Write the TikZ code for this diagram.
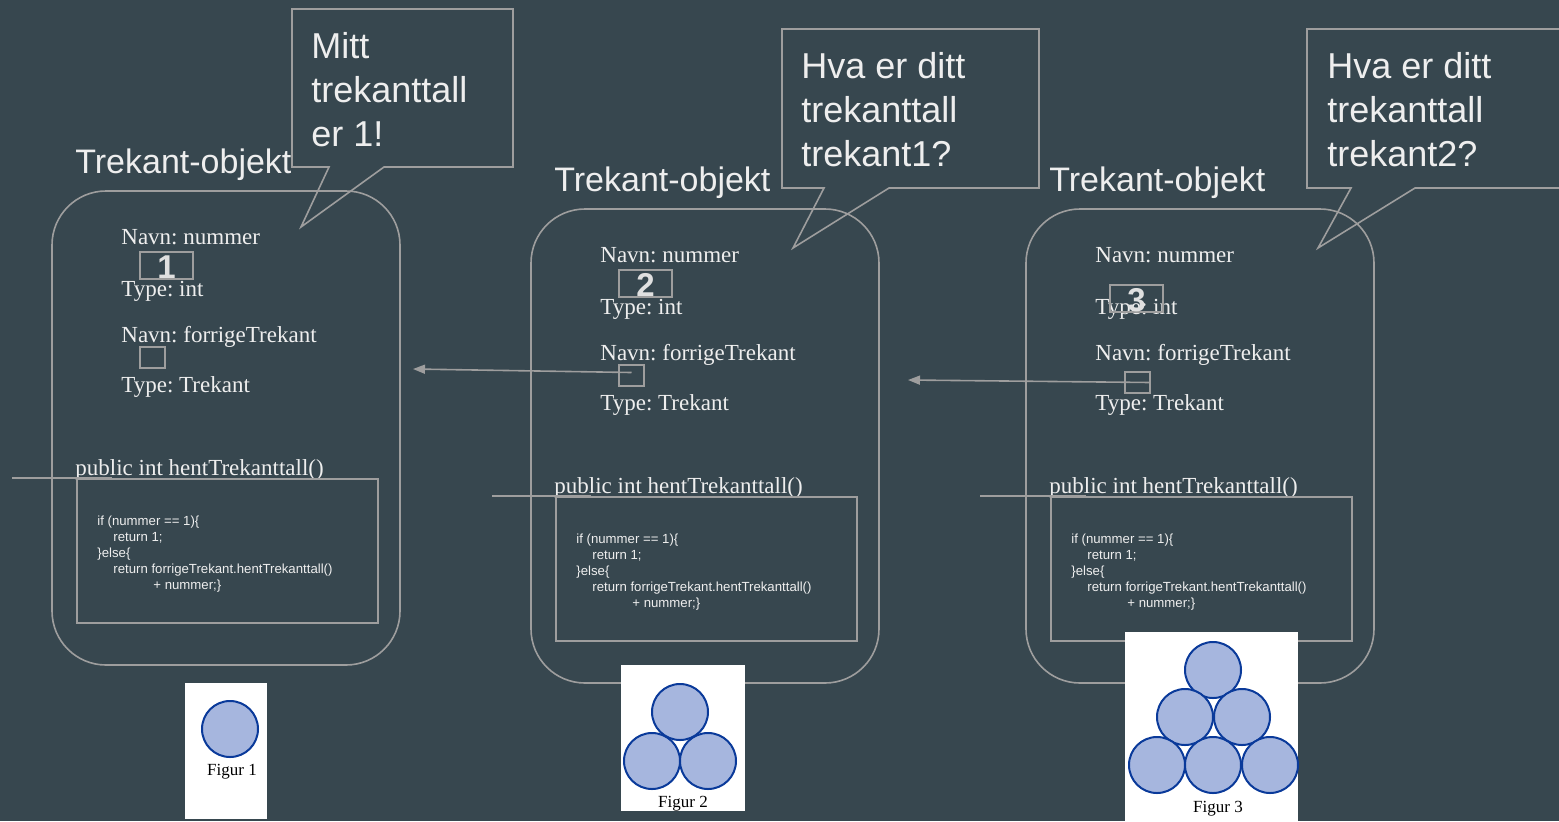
\documentclass[tikz,border=0pt]{standalone}
\usepackage{fontspec}
\setmainfont{Liberation Serif}
\newfontfamily\arial{Liberation Sans}
\usetikzlibrary{arrows.meta}
\frenchspacing
\definecolor{bg}{HTML}{37474F}
\definecolor{ln}{HTML}{9E9E9E}
\definecolor{tx}{HTML}{EEEEEE}
\definecolor{dg}{HTML}{E0E0E0}
\definecolor{cfill}{HTML}{A6B6DE}
\definecolor{cline}{HTML}{0A3A9A}
\tikzset{
  objbox/.style={draw=ln, line width=0.8pt, rounded corners=27pt, minimum width=174pt, minimum height=237pt, inner sep=0pt},
  ttl/.style={anchor=base west, inner sep=0pt, text=tx, font=\arial\fontsize{17}{20}\selectfont},
  field/.style={anchor=base west, inner sep=0pt, text=tx, font=\frenchspacing\fontsize{11.5}{14}\selectfont},
  valbox/.style={draw=ln, line width=0.8pt, minimum width=26.5pt, minimum height=13.5pt, inner sep=0pt},
  digit/.style={anchor=base, inner sep=0pt, text=dg, font=\arial\bfseries\fontsize{16.5}{16}\selectfont},
  ptrbox/.style={draw=ln, line width=0.8pt, minimum width=12.5pt, minimum height=10.5pt, inner sep=0pt},
  codebox/.style={draw=ln, line width=0.8pt, minimum width=150.5pt, minimum height=72pt, inner sep=0pt},
  codetxt/.style={anchor=base west, inner sep=0pt, align=left, text=tx, font=\arial\fontsize{6.6}{8}\selectfont},
  plainln/.style={draw=ln, line width=0.8pt},
  ptrarrow/.style={draw=ln, line width=0.8pt, -{Triangle[length=6pt,width=4.5pt]}},
  callout/.style={draw=ln, line width=0.8pt, line join=miter},
  bubtext/.style={anchor=base west, inner sep=0pt, align=left, text=tx, font=\arial\fontsize{18}{22}\selectfont},
  figbox/.style={fill=white, draw=none, inner sep=0pt},
  ball/.style={circle, fill=cfill, draw=cline, line width=1pt, minimum size=28pt, inner sep=0pt},
  figlbl/.style={anchor=base, inner sep=0pt, text=black, font=\fontsize{8.5}{10}\selectfont},
}
\newcommand\trekobj[7]{%
  \begin{scope}[shift={(#2,#3)}, name prefix=#1-]
    \node[objbox] (box) at (226,428) {};
    \node[ttl] (title) at (75,173) {Trekant-objekt};
    \node[field] (n1) at (121,244) {Navn: nummer};
    \node[field] (t1) at (121,296) {Type: int};
    \node[field] (n2) at (121,342) {Navn: forrigeTrekant};
    \node[field] (t2) at (121,392) {Type: Trekant};
    \begin{scope}[shift={(#5)}]
      \node[valbox] (val) at (166.5,265.5) {};
      \node[digit] (dig) at (166.5,278) {#4};
    \end{scope}
    \begin{scope}[shift={(#6)}]
      \node[ptrbox] (ptr) at (152.5,357.5) {};
    \end{scope}
    \node[field] (meth) at (75,475) {public int hentTrekanttall()};
    \node[codebox] (code) at (227.5,551) {};
    \coordinate (lstart) at (#7,478);
    \coordinate (lend) at (112,478);
    \draw[plainln] (lstart) -- (lend);
    \node[codetxt] (src) at (97,589) {if (nummer == 1)\{\\
\hspace*{8pt}return 1;\\
\}else\{\\
\hspace*{8pt}return forrigeTrekant.hentTrekanttall()\\
\hspace*{28pt}+ nummer;\}};
  \end{scope}}
\begin{document}
\begin{tikzpicture}[x=0.5pt, y=-0.5pt]
  \useasboundingbox (0,0) rectangle (1559,821);
  \fill[bg] (0,0) rectangle (1559,821);

  \trekobj{o1}{0}{0}{1}{0,0}{0,0}{12}
  \trekobj{o2}{479}{18}{2}{0,0}{0,0}{13}
  \trekobj{o3}{974}{18}{3}{-4,15}{11,7}{6}

  % pointer arrows
  \coordinate (a1) at (413,369);
  \draw[ptrarrow] ([yshift=1.5pt]o2-ptr.center) -- (a1);
  \coordinate (a2) at (908,380);
  \draw[ptrarrow] (o3-ptr.east) -- (a2);

  % callouts
  \draw[callout] (292,9) -- (513,9) -- (513,167) -- (384,167) -- (301,227) -- (329,167) -- (292,167) -- cycle;
  \node[bubtext] (c1) at (311,146) {Mitt\\trekanttall\\er 1!};
  \draw[callout] (782,29) -- (1039,29) -- (1039,188) -- (889,188) -- (793,248) -- (824,188) -- (782,188) -- cycle;
  \node[bubtext] (c2) at (801,166) {Hva er ditt\\trekanttall\\trekant1?};
  \draw[callout] (1566,188) -- (1415,188) -- (1318,248) -- (1351,188) -- (1307,188) -- (1307,29) -- (1566,29);
  \node[bubtext] (c3) at (1327,166) {Hva er ditt\\trekanttall\\trekant2?};

  % figures
  \node[figbox, minimum width=41pt, minimum height=68pt] (f1) at (226,751) {};
  \node[ball] (f1b1) at (230,729) {};
  \node[figlbl] (f1l) at (232,775) {Figur 1};

  \node[figbox, minimum width=62pt, minimum height=73pt] (f2) at (683,738) {};
  \node[ball] (f2b1) at (680,712) {};
  \node[ball] (f2b2) at (652,761) {};
  \node[ball] (f2b3) at (708,761) {};
  \node[figlbl] (f2l) at (683,807) {Figur 2};

  \node[figbox, minimum width=86.5pt, minimum height=96pt] (f3) at (1211.5,728) {};
  \node[ball] (f3b1) at (1213,670) {};
  \node[ball] (f3b2) at (1185,717) {};
  \node[ball] (f3b3) at (1242,717) {};
  \node[ball] (f3b4) at (1157,765) {};
  \node[ball] (f3b5) at (1213,765) {};
  \node[ball] (f3b6) at (1270,765) {};
  \node[figlbl] (f3l) at (1218,812) {Figur 3};
\end{tikzpicture}
\end{document}
